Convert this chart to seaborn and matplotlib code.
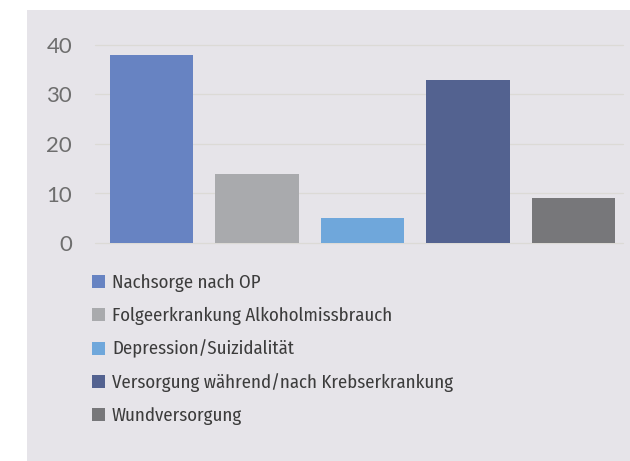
import matplotlib
matplotlib.use("Agg")
import matplotlib.pyplot as plt
import seaborn as sns
import pandas as pd
from matplotlib.patches import Rectangle

categories = ["Nachsorge nach OP", "Folgeerkrankung Alkoholmissbrauch", "Depression/Suizidalität",
              "Versorgung während/nach Krebserkrankung", "Wundversorgung"]
values = [38, 14, 5, 33, 9]
colors = ["#6783C2", "#A9AAAD", "#6FA7DB", "#536290", "#77777A"]
yticks = [0, 10, 20, 30, 40]

sns.set_theme(style="white")
plt.rcParams["font.family"] = ["Fira Sans Condensed", "Roboto Condensed", "Lato", "DejaVu Sans"]

W, H = 630, 461
fig = plt.figure(figsize=(W / 100, H / 100), dpi=100, facecolor="white")
panel_color = "#E6E4E9"
fig.patches.append(Rectangle((27 / W, 0), 1 - 27 / W, 1 - 10 / H, transform=fig.transFigure,
                             facecolor=panel_color, edgecolor="none", zorder=-10))

ax = fig.add_axes([95 / W, 1 - 243 / H, 528 / W, 198 / H])
ax.set_facecolor("none")
ax.set_zorder(1)

df = pd.DataFrame({"cat": categories, "val": values})
sns.barplot(data=df, x="cat", y="val", hue="cat", palette=colors, order=categories,
            hue_order=categories, width=0.79, dodge=False, legend=True, ax=ax, saturation=1,
            edgecolor="none", zorder=3)

ax.set_xlim(-0.535, 4.47)
ax.set_ylim(0, 40)
ax.set_yticks(yticks)
ax.set_yticklabels([str(t) for t in yticks], family=["Lato", "DejaVu Sans"],
                   fontsize=16, color="#6E6E6E")
ax.set_xticks([])
ax.set_xlabel("")
ax.set_ylabel("")
for s in ax.spines.values():
    s.set_visible(False)
ax.tick_params(axis="y", length=0, pad=16.5)
for t in yticks:
    ax.axhline(t, color="#DCDAD6", linewidth=0.9, zorder=1, clip_on=False)

sns.move_legend(ax, "upper left", bbox_to_anchor=(92 / W, 1 - 274 / H),
                bbox_transform=fig.transFigure, frameon=False, title=None,
                fontsize=13.5, handlelength=0.7, handleheight=0.7, handletextpad=0.37,
                labelspacing=0.79, borderpad=0, borderaxespad=0)
leg = ax.get_legend()
for txt in leg.get_texts():
    txt.set_color("#3C3C3C")

fig.savefig("out.png", dpi=100, facecolor="white")
